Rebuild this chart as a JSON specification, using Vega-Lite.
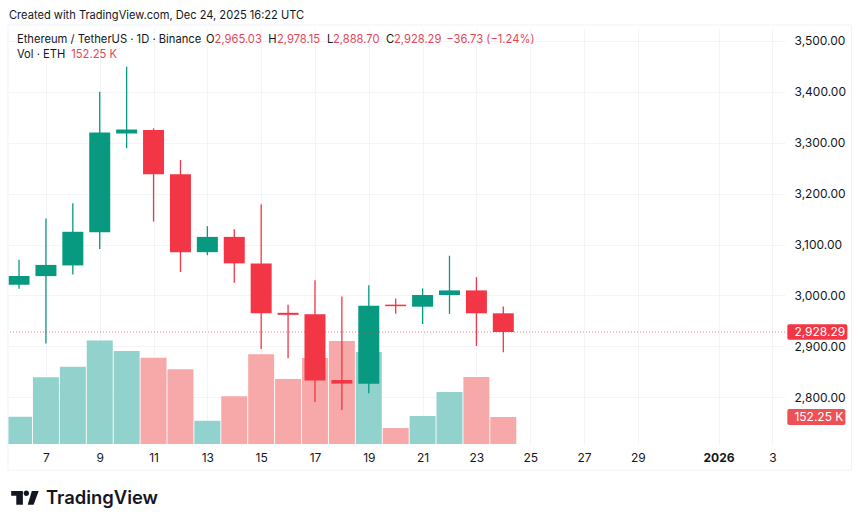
{
  "$schema": "https://vega.github.io/schema/vega-lite/v6.json",
  "width": 777,
  "height": 416,
  "autosize": {"type": "none"},
  "padding": {"left": 8, "top": 28, "right": 75, "bottom": 82},
  "background": "#ffffff",
  "view": {"stroke": null},
  "title": {
    "text": "Created with TradingView.com, Dec 24, 2025 16:22 UTC",
    "anchor": "start",
    "frame": "group",
    "font": "Inter",
    "fontSize": 11.1,
    "fontWeight": "normal",
    "color": "#131722",
    "offset": 3,
    "dx": 1
  },
  "config": {"text": {"font": "Inter", "fontSize": 11.2, "align": "left", "baseline": "middle"}},
  "datasets": {
    "one": [{}],
    "candles": [
      {"date": "2025-12-06", "open": 3021, "high": 3070, "low": 3013, "close": 3038, "volume": 154},
      {"date": "2025-12-07", "open": 3038, "high": 3151, "low": 2906, "close": 3060, "volume": 376},
      {"date": "2025-12-08", "open": 3059, "high": 3181, "low": 3041, "close": 3125, "volume": 436},
      {"date": "2025-12-09", "open": 3124, "high": 3400, "low": 3091, "close": 3320, "volume": 583},
      {"date": "2025-12-10", "open": 3318, "high": 3449, "low": 3289, "close": 3326, "volume": 525},
      {"date": "2025-12-11", "open": 3325, "high": 3328, "low": 3145, "close": 3238, "volume": 487},
      {"date": "2025-12-12", "open": 3238, "high": 3266, "low": 3046, "close": 3085, "volume": 421},
      {"date": "2025-12-13", "open": 3085, "high": 3136, "low": 3079, "close": 3115, "volume": 131},
      {"date": "2025-12-14", "open": 3115, "high": 3130, "low": 3025, "close": 3063, "volume": 269},
      {"date": "2025-12-15", "open": 3063, "high": 3179, "low": 2895, "close": 2965, "volume": 506},
      {"date": "2025-12-16", "open": 2966, "high": 2982, "low": 2877, "close": 2962, "volume": 367},
      {"date": "2025-12-17", "open": 2963, "high": 3030, "low": 2791, "close": 2833, "volume": 485},
      {"date": "2025-12-18", "open": 2834, "high": 2998, "low": 2775, "close": 2827, "volume": 581},
      {"date": "2025-12-19", "open": 2827, "high": 3020, "low": 2808, "close": 2980, "volume": 519},
      {"date": "2025-12-20", "open": 2982, "high": 2994, "low": 2964, "close": 2979, "volume": 90},
      {"date": "2025-12-21", "open": 2978, "high": 3014, "low": 2944, "close": 3001, "volume": 158},
      {"date": "2025-12-22", "open": 3001, "high": 3078, "low": 2964, "close": 3010, "volume": 293},
      {"date": "2025-12-23", "open": 3010, "high": 3036, "low": 2901, "close": 2965, "volume": 378},
      {"date": "2025-12-24", "open": 2965.03, "high": 2978.15, "low": 2888.7, "close": 2928.29, "volume": 152.25}
    ]
  },
  "layer": [
    {
      "layer": [
        {
          "data": {"name": "candles"},
          "mark": {"type": "bar", "width": 26, "clip": true},
          "encoding": {
            "x": {
              "field": "date",
              "type": "temporal",
              "title": null,
              "scale": {
                "type": "utc",
                "padding": 0,
                "domain": [
                  {"year": 2025, "month": 12, "date": 5, "hours": 14, "minutes": 10, "utc": true},
                  {"year": 2026, "month": 1, "date": 3, "hours": 11, "minutes": 17, "utc": true}
                ]
              },
              "axis": {
                "values": [
                  {"year": 2025, "month": 12, "date": 7, "utc": true},
                  {"year": 2025, "month": 12, "date": 9, "utc": true},
                  {"year": 2025, "month": 12, "date": 11, "utc": true},
                  {"year": 2025, "month": 12, "date": 13, "utc": true},
                  {"year": 2025, "month": 12, "date": 15, "utc": true},
                  {"year": 2025, "month": 12, "date": 17, "utc": true},
                  {"year": 2025, "month": 12, "date": 19, "utc": true},
                  {"year": 2025, "month": 12, "date": 21, "utc": true},
                  {"year": 2025, "month": 12, "date": 23, "utc": true},
                  {"year": 2025, "month": 12, "date": 25, "utc": true},
                  {"year": 2025, "month": 12, "date": 27, "utc": true},
                  {"year": 2025, "month": 12, "date": 29, "utc": true},
                  {"year": 2026, "month": 1, "date": 1, "utc": true},
                  {"year": 2026, "month": 1, "date": 3, "utc": true}
                ],
                "labelExpr": "utcmonth(datum.value) == 0 && utcdate(datum.value) == 1 ? '2026' : '' + utcdate(datum.value)",
                "labelFontWeight": {"condition": {"test": "utcmonth(datum.value) == 0 && utcdate(datum.value) == 1", "value": "bold"}, "value": "normal"},
                "labelFont": "Inter",
                "labelFontSize": 12,
                "labelColor": "#131722",
                "labelPadding": 8,
                "labelFlush": false,
                "labelOverlap": false,
                "domain": false,
                "ticks": false,
                "grid": true,
                "gridColor": "#f3f4f7",
                "gridWidth": 1
              }
            },
            "y": {"field": "volume", "type": "quantitative", "title": null, "axis": null, "scale": {"domain": [0, 2346], "nice": false, "zero": false}},
            "color": {"condition": {"test": "datum.close >= datum.open", "value": "#92d2cc"}, "value": "#f7a9a9"}
          }
        },
        {
          "data": {"name": "one"},
          "layer": [
            {
              "mark": {"type": "rect", "color": "#ef5056", "cornerRadius": 2},
              "encoding": {
                "x": {"datum": {"year": 2026, "month": 1, "date": 3, "hours": 13, "minutes": 22, "utc": true}, "type": "temporal", "title": null},
                "x2": {"datum": {"year": 2026, "month": 1, "date": 5, "hours": 17, "minutes": 8, "utc": true}},
                "y": {"datum": 107, "type": "quantitative", "axis": null},
                "y2": {"datum": 197}
              }
            },
            {
              "mark": {"type": "text", "text": "152.25 K", "color": "#ffffff", "fontSize": 12},
              "encoding": {
                "x": {"datum": {"year": 2026, "month": 1, "date": 3, "hours": 19, "minutes": 40, "utc": true}, "type": "temporal", "title": null},
                "y": {"datum": 152.25, "type": "quantitative", "axis": null}
              }
            }
          ]
        }
      ]
    },
    {
      "layer": [
        {
          "data": {"name": "candles"},
          "mark": {"type": "rule", "strokeWidth": 1.3, "clip": true},
          "encoding": {
            "x": {"field": "date", "type": "temporal", "title": null},
            "y": {
              "field": "low",
              "type": "quantitative",
              "title": null,
              "scale": {"domain": [2708.5, 3525], "nice": false, "zero": false},
              "axis": {
                "orient": "right",
                "values": [2800, 2900, 3000, 3100, 3200, 3300, 3400, 3500],
                "format": ",.2f",
                "labelFont": "Inter",
                "labelFontSize": 12,
                "labelColor": "#131722",
                "labelPadding": 9,
                "domain": false,
                "ticks": false,
                "grid": true,
                "gridColor": "#f3f4f7",
                "gridWidth": 1
              }
            },
            "y2": {"field": "high"},
            "color": {"condition": {"test": "datum.close >= datum.open", "value": "#089981"}, "value": "#f23645"}
          }
        },
        {
          "data": {"name": "candles"},
          "mark": {"type": "bar", "width": 21, "clip": true},
          "encoding": {
            "x": {"field": "date", "type": "temporal", "title": null},
            "y": {"field": "open", "type": "quantitative", "title": null},
            "y2": {"field": "close"},
            "color": {"condition": {"test": "datum.close >= datum.open", "value": "#089981"}, "value": "#f23645"}
          }
        },
        {
          "data": {"name": "one"},
          "layer": [
            {
              "mark": {"type": "rule", "color": "#f23645", "strokeDash": [1, 2], "opacity": 0.7},
              "encoding": {"y": {"datum": 2928.29, "type": "quantitative", "title": null}}
            },
            {
              "mark": {"type": "rect", "fill": null, "stroke": "#f0f3fa", "strokeWidth": 1},
              "encoding": {
                "x": {"datum": {"year": 2025, "month": 12, "date": 5, "hours": 14, "minutes": 10, "utc": true}, "type": "temporal", "title": null},
                "x2": {"datum": {"year": 2026, "month": 1, "date": 5, "hours": 22, "minutes": 30, "utc": true}},
                "y": {"datum": 3531, "type": "quantitative", "title": null},
                "y2": {"datum": 2657}
              }
            },
            {
              "mark": {"type": "rect", "color": "#f23645", "cornerRadius": 2},
              "encoding": {
                "x": {"datum": {"year": 2026, "month": 1, "date": 3, "hours": 13, "minutes": 22, "utc": true}, "type": "temporal", "title": null},
                "x2": {"datum": {"year": 2026, "month": 1, "date": 5, "hours": 18, "minutes": 55, "utc": true}},
                "y": {"datum": 2943.5, "type": "quantitative", "title": null},
                "y2": {"datum": 2913}
              }
            },
            {
              "mark": {"type": "text", "text": "2,928.29", "color": "#ffffff", "fontSize": 12},
              "encoding": {
                "x": {"datum": {"year": 2026, "month": 1, "date": 3, "hours": 19, "minutes": 40, "utc": true}, "type": "temporal", "title": null},
                "y": {"datum": 2928.29, "type": "quantitative", "title": null}
              }
            },
            {
              "mark": {"type": "text", "text": "Ethereum / TetherUS · 1D · Binance", "color": "#131722"},
              "encoding": {"x": {"datum": {"year": 2025, "month": 12, "date": 5, "hours": 22, "minutes": 7, "utc": true}, "type": "temporal", "title": null}, "y": {"datum": 3502, "type": "quantitative", "title": null}}
            },
            {
              "mark": {"type": "text", "text": "O", "color": "#131722"},
              "encoding": {"x": {"datum": {"year": 2025, "month": 12, "date": 12, "hours": 22, "minutes": 45, "utc": true}, "type": "temporal", "title": null}, "y": {"datum": 3502, "type": "quantitative", "title": null}}
            },
            {
              "mark": {"type": "text", "text": "2,965.03", "color": "#e0485a"},
              "encoding": {"x": {"datum": {"year": 2025, "month": 12, "date": 13, "hours": 6, "minutes": 26, "utc": true}, "type": "temporal", "title": null}, "y": {"datum": 3502, "type": "quantitative", "title": null}}
            },
            {
              "mark": {"type": "text", "text": "H", "color": "#131722"},
              "encoding": {"x": {"datum": {"year": 2025, "month": 12, "date": 15, "hours": 6, "minutes": 20, "utc": true}, "type": "temporal", "title": null}, "y": {"datum": 3502, "type": "quantitative", "title": null}}
            },
            {
              "mark": {"type": "text", "text": "2,978.15", "color": "#e0485a"},
              "encoding": {"x": {"datum": {"year": 2025, "month": 12, "date": 15, "hours": 14, "minutes": 5, "utc": true}, "type": "temporal", "title": null}, "y": {"datum": 3502, "type": "quantitative", "title": null}}
            },
            {
              "mark": {"type": "text", "text": "L", "color": "#131722"},
              "encoding": {"x": {"datum": {"year": 2025, "month": 12, "date": 17, "hours": 10, "minutes": 42, "utc": true}, "type": "temporal", "title": null}, "y": {"datum": 3502, "type": "quantitative", "title": null}}
            },
            {
              "mark": {"type": "text", "text": "2,888.70", "color": "#e0485a"},
              "encoding": {"x": {"datum": {"year": 2025, "month": 12, "date": 17, "hours": 16, "minutes": 3, "utc": true}, "type": "temporal", "title": null}, "y": {"datum": 3502, "type": "quantitative", "title": null}}
            },
            {
              "mark": {"type": "text", "text": "C", "color": "#131722"},
              "encoding": {"x": {"datum": {"year": 2025, "month": 12, "date": 19, "hours": 15, "minutes": 20, "utc": true}, "type": "temporal", "title": null}, "y": {"datum": 3502, "type": "quantitative", "title": null}}
            },
            {
              "mark": {"type": "text", "text": "2,928.29", "color": "#e0485a"},
              "encoding": {"x": {"datum": {"year": 2025, "month": 12, "date": 19, "hours": 22, "minutes": 29, "utc": true}, "type": "temporal", "title": null}, "y": {"datum": 3502, "type": "quantitative", "title": null}}
            },
            {
              "mark": {"type": "text", "text": "−36.73 (−1.24%)", "color": "#e0485a"},
              "encoding": {"x": {"datum": {"year": 2025, "month": 12, "date": 21, "hours": 21, "minutes": 8, "utc": true}, "type": "temporal", "title": null}, "y": {"datum": 3502, "type": "quantitative", "title": null}}
            },
            {
              "mark": {"type": "text", "text": "Vol · ETH", "color": "#131722"},
              "encoding": {"x": {"datum": {"year": 2025, "month": 12, "date": 5, "hours": 22, "minutes": 7, "utc": true}, "type": "temporal", "title": null}, "y": {"datum": 3471.5, "type": "quantitative", "title": null}}
            },
            {
              "mark": {"type": "text", "text": "152.25 K", "color": "#e0485a"},
              "encoding": {"x": {"datum": {"year": 2025, "month": 12, "date": 7, "hours": 22, "minutes": 35, "utc": true}, "type": "temporal", "title": null}, "y": {"datum": 3471.5, "type": "quantitative", "title": null}}
            },
            {
              "mark": {
                "type": "point",
                "shape": "M-1 -.49H-.15V.5H-.63V-.15H-1ZM-.1 -.32a.2 .2 0 1 0 .4 0a.2 .2 0 1 0 -.4 0ZM.5 -.49H1L.63 .5H.2Z",
                "size": 756,
                "filled": true,
                "color": "#131722",
                "opacity": 1,
                "strokeWidth": 0
              },
              "encoding": {"x": {"datum": {"year": 2025, "month": 12, "date": 6, "hours": 5, "minutes": 17, "utc": true}, "type": "temporal", "title": null}, "y": {"datum": 2603, "type": "quantitative", "title": null}}
            },
            {
              "mark": {"type": "text", "text": "TradingView", "color": "#131722", "fontSize": 18.4, "fontWeight": 600},
              "encoding": {"x": {"datum": {"year": 2025, "month": 12, "date": 7, "utc": true}, "type": "temporal", "title": null}, "y": {"datum": 2602, "type": "quantitative", "title": null}}
            }
          ]
        }
      ]
    }
  ],
  "resolve": {"scale": {"y": "independent"}, "axis": {"y": "independent"}}
}
